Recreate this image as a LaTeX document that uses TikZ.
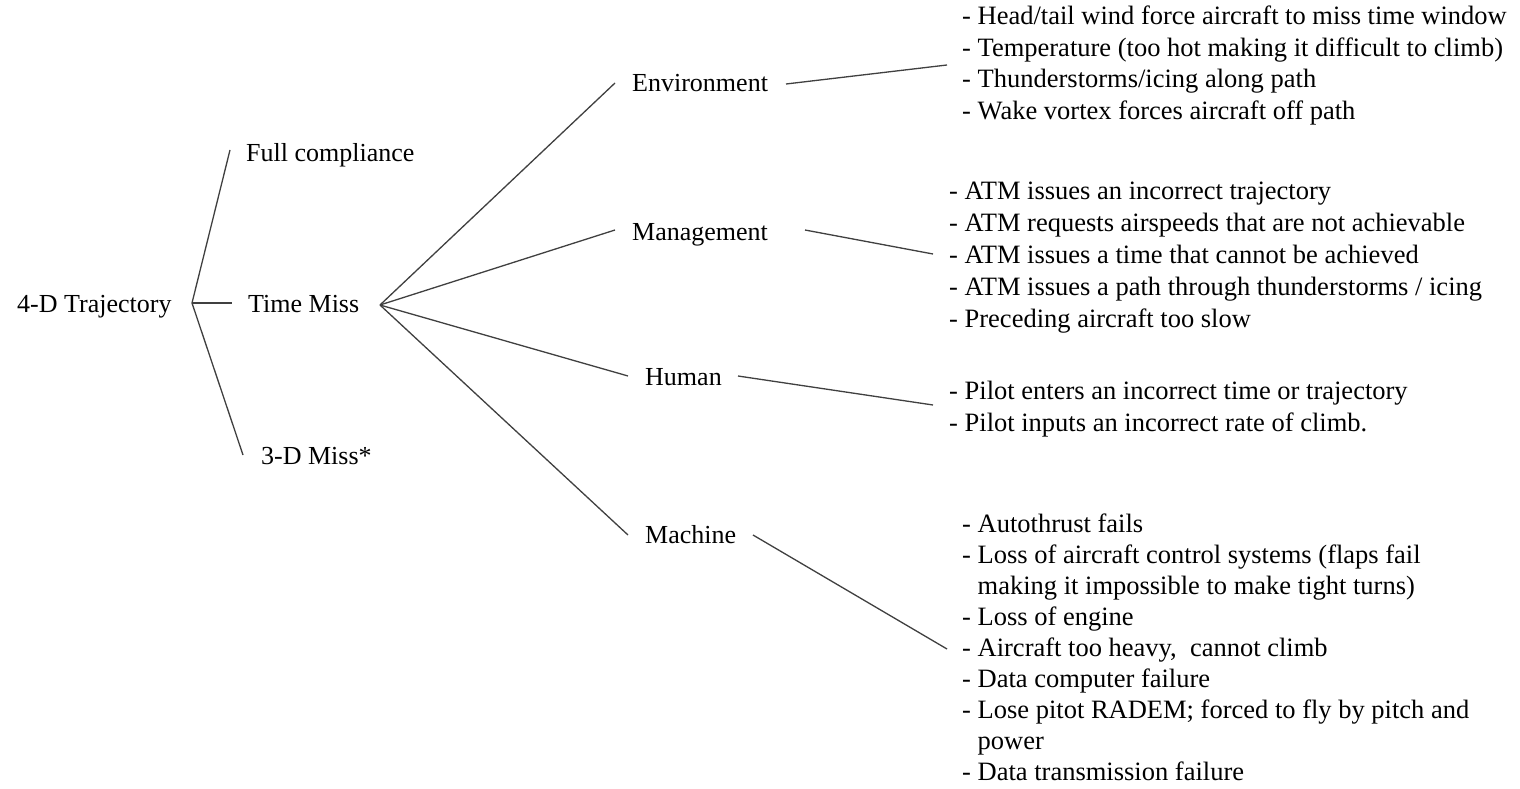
\documentclass[tikz,border=0pt]{standalone}
\usepackage{fontspec}
\setmainfont{Liberation Serif}
\usetikzlibrary{calc}
\begin{document}
\begin{tikzpicture}[x=1pt,y=-1pt,
  lbl/.style={inner sep=0pt, anchor=base west, font=\fontsize{26}{31.5}\selectfont},
  lstnode/.style={inner sep=0pt, anchor=base west, font=\fontsize{26.5}{32}\selectfont},
  conn/.style={line width=1.3pt, draw=black!75}]
\useasboundingbox[fill=white] (0,0) rectangle (1520,789);
\newcommand{\lst}[1]{\begin{tabular}[t]{@{}l@{}}#1\end{tabular}}
% nodes
\node[lbl] (traj) at (17,312) {4-D Trajectory};
\node[lbl] (fc)   at (246,161) {Full compliance};
\node[lbl] (tm)   at (248,312) {Time Miss};
\node[lbl] (tdm)  at (261,464) {3-D Miss*};
\node[lbl] (env)  at (632,92)  {Environment};
\node[lbl] (mgmt) at (632,240) {Management};
\node[lbl] (hum)  at (645,385) {Human};
\node[lbl] (mach) at (645,543) {Machine};
\node[lstnode, font=\fontsize{26.5}{31.5}\selectfont] (envl) at (962,25) {\lst{- Head/tail wind force aircraft to miss time window\\
- Temperature (too hot making it difficult to climb)\\
- Thunderstorms/icing along path\\
- Wake vortex forces aircraft off path}};
\node[lstnode] (mgmtl) at (949,199) {\lst{- ATM issues an incorrect trajectory\\
- ATM requests airspeeds that are not achievable\\
- ATM issues a time that cannot be achieved\\
- ATM issues a path through thunderstorms / icing\\
- Preceding aircraft too slow}};
\node[lstnode] (huml) at (949,399) {\lst{- Pilot enters an incorrect time or trajectory\\
- Pilot inputs an incorrect rate of climb.}};
\node[lstnode, font=\fontsize{26.5}{31}\selectfont] (machl) at (962,532) {\lst{- Autothrust fails\\
- Loss of aircraft control systems (flaps fail\\
\phantom{- }making it impossible to make tight turns)\\
- Loss of engine\\
- Aircraft too heavy,\ \ cannot climb\\
- Data computer failure\\
- Lose pitot RADEM; forced to fly by pitch and\\
\phantom{- }power\\
- Data transmission failure}};
% junctions
\coordinate (j0) at (192,303);
\coordinate (j1) at (380,305);
% connectors
\draw[conn] ($(fc.base west)+(-16,-11)$) -- (j0) -- ($(tdm.base west)+(-18,-9)$);
\draw[conn] (j0) -- ($(tm.base west)+(-16,-9)$);
\draw[conn] (j1) -- ($(env.base west)+(-17,-9)$);
\draw[conn] (j1) -- ($(mgmt.base west)+(-17,-10)$);
\draw[conn] (j1) -- ($(hum.base west)+(-17,-9)$);
\draw[conn] (j1) -- ($(mach.base west)+(-17,-8)$);
\draw[conn] ($(env.base west)+(154,-8)$) -- ($(envl.base west)+(-15,40)$);
\draw[conn] ($(mgmt.base west)+(173,-10)$) -- ($(mgmtl.base west)+(-16,55)$);
\draw[conn] ($(hum.base west)+(93,-9)$) -- ($(huml.base west)+(-16,6)$);
\draw[conn] ($(mach.base west)+(108,-8)$) -- ($(machl.base west)+(-15,117)$);
\end{tikzpicture}
\end{document}
